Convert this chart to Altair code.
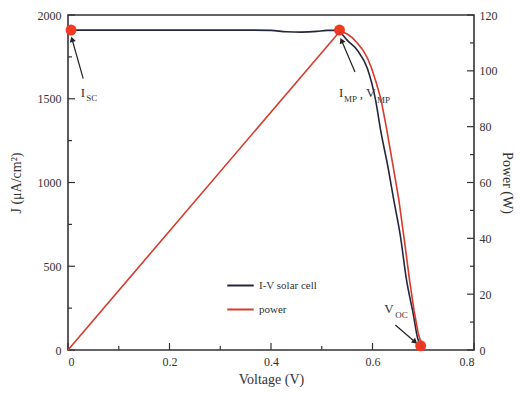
import math
import altair as alt
import pandas as pd

# ---------------- data ----------------
iv_voltage = [0.0, 0.05, 0.10, 0.15, 0.20, 0.25, 0.30, 0.35, 0.40, 0.43, 0.46, 0.49, 0.51, 0.53, 0.54,
              0.55, 0.57, 0.59, 0.606, 0.617, 0.63, 0.642, 0.655, 0.667, 0.68, 0.689, 0.695]
iv_current = [1910, 1910, 1910, 1910, 1910, 1910, 1910, 1910, 1908, 1900, 1898, 1902, 1908, 1908, 1885,
              1850, 1790, 1680, 1493, 1296, 1100, 895, 680, 418, 220, 70, 25]

power_voltage = [0.0, 0.535, 0.54, 0.545, 0.55, 0.56, 0.57, 0.581, 0.59, 0.598, 0.607, 0.617, 0.628,
                 0.64, 0.652, 0.663, 0.673, 0.682, 0.69, 0.70]
power_watts = [0.0, 114.0, 113.9, 113.6, 113.2, 111.9, 110.0, 107.5, 104.6, 101.0, 96.0, 89.6, 79.0,
               66.5, 53.7, 39.0, 25.0, 14.0, 6.0, 0.0]

marker_voltage = [0.006, 0.535, 0.695]
marker_current = [1910, 1910, 25]

series_names = ["I-V solar cell", "power"]
series_colors = ["#24263b", "#d63a2c"]

x_major = [0.0, 0.2, 0.4, 0.6, 0.8]
x_minor = [0.1, 0.3, 0.5, 0.7]
j_major = [0, 500, 1000, 1500, 2000]
j_minor = [250, 750, 1250, 1750]
p_major = [0, 20, 40, 60, 80, 100, 120]
p_minor = [10, 30, 50, 70, 90, 110]

# annotation text pieces (voltage, current, text, font size)
label_v = [0.025, 0.036, 0.534, 0.544, 0.575, 0.587, 0.609, 0.623, 0.645]
label_j = [1510, 1485, 1510, 1481, 1504, 1510, 1475, 221, 194]
label_t = ["I", "SC", "I", "MP", ",", "V", "MP", "V", "OC"]
label_s = [13, 9, 13, 9, 13, 13, 9, 13, 9]

# arrows: start (v, j) -> end (v, j)
arrow_v1 = [0.030, 0.5655, 0.645]
arrow_j1 = [1620, 1660, 149]
arrow_v2 = [0.008, 0.539, 0.684]
arrow_j2 = [1855, 1848, 48]

# ---------------- layout ----------------
W, H = 406, 335
FONT = "Liberation Serif"
x_dom = [0, 0.8]
j_dom = [0, 2000]
p_dom = [0, 120]

xs = alt.Scale(domain=x_dom, nice=False, zero=False)
js = alt.Scale(domain=j_dom, nice=False)
ps = alt.Scale(domain=p_dom, nice=False)
cs = alt.Scale(domain=series_names, range=series_colors)

iv_df = pd.DataFrame({"V": iv_voltage, "J": iv_current, "series": series_names[0]})
pw_df = pd.DataFrame({"V": power_voltage, "P": power_watts, "series": series_names[1]})
mk_df = pd.DataFrame({"V": marker_voltage, "J": marker_current})
lb_df = pd.DataFrame({"V": label_v, "J": label_j, "t": label_t, "s": label_s})

# arrow head angles in pixel space
px_per_v = W / (x_dom[1] - x_dom[0])
px_per_j = H / (j_dom[1] - j_dom[0])
angles = []
for v1, j1, v2, j2 in zip(arrow_v1, arrow_j1, arrow_v2, arrow_j2):
    dx = (v2 - v1) * px_per_v
    dy = -(j2 - j1) * px_per_j
    angles.append(math.degrees(math.atan2(dx, -dy)) % 360)
ar_df = pd.DataFrame({"V": arrow_v1, "J": arrow_j1, "V2": arrow_v2, "J2": arrow_j2, "ang": angles})

x_enc = alt.X("V:Q", scale=xs,
              axis=alt.Axis(values=x_major, title="Voltage (V)", ticks=False, grid=False,
                            labelPadding=6, titlePadding=5, domain=False,
                            labelExpr="datum.value == 0 ? '0' : format(datum.value, '.1f')"))

iv_line = alt.Chart(iv_df).mark_line(strokeWidth=1.6, interpolate="monotone").encode(
    x=x_enc,
    y=alt.Y("J:Q", scale=js,
            axis=alt.Axis(values=j_major, title="J (μA/cm²)", ticks=False, grid=False, format="d",
                          labelPadding=7, titlePadding=14, domain=False, orient="left")),
    color=alt.Color("series:N", scale=cs,
                    legend=alt.Legend(title=None, orient="none", legendX=158, legendY=256,
                                      symbolType="stroke", symbolSize=700, symbolStrokeWidth=2,
                                      labelFont=FONT, labelFontSize=11, rowPadding=4,
                                      labelColor="#333")),
)

markers = alt.Chart(mk_df).mark_point(filled=True, size=120, color="#f03a22", opacity=1).encode(
    x=alt.X("V:Q", scale=xs), y=alt.Y("J:Q", scale=js))

labels = alt.Chart(lb_df).mark_text(font=FONT, align="left", baseline="alphabetic", color="#333").encode(
    x=alt.X("V:Q", scale=xs), y=alt.Y("J:Q", scale=js),
    text="t:N", size=alt.Size("s:Q", scale=None, legend=None))

arrow_lines = alt.Chart(ar_df).mark_rule(strokeWidth=1.2, color="#222").encode(
    x=alt.X("V:Q", scale=xs), y=alt.Y("J:Q", scale=js),
    x2="V2:Q", y2="J2:Q")
arrow_heads = alt.Chart(ar_df).mark_point(shape="triangle-up", filled=True, size=40, color="#222",
                                          opacity=1).encode(
    x=alt.X("V2:Q", scale=xs), y=alt.Y("J2:Q", scale=js),
    angle=alt.Angle("ang:Q", scale=None))

def xticks(vals, length):
    return alt.Chart(pd.DataFrame({"V": vals})).mark_rule(color="#333", strokeWidth=1.2).encode(
        x=alt.X("V:Q", scale=xs), y=alt.value(H), y2=alt.value(H - length))

def jticks(vals, length):
    return alt.Chart(pd.DataFrame({"J": vals})).mark_rule(color="#333", strokeWidth=1.2).encode(
        y=alt.Y("J:Q", scale=js), x=alt.value(0), x2=alt.value(length))

def pticks(vals, length):
    return alt.Chart(pd.DataFrame({"P": vals})).mark_rule(color="#333", strokeWidth=1.2).encode(
        y=alt.Y("P:Q", scale=ps), x=alt.value(W), x2=alt.value(W - length))

left = alt.layer(iv_line, xticks(x_major, 7), xticks(x_minor, 4), jticks(j_major, 7), jticks(j_minor, 4),
                 arrow_lines, arrow_heads, labels, markers)

pw_line = alt.Chart(pw_df).mark_line(strokeWidth=1.6).encode(
    x=alt.X("V:Q", scale=xs),
    y=alt.Y("P:Q", scale=ps,
            axis=alt.Axis(values=p_major, title="Power (W)", ticks=False, grid=False, format="d",
                          labelPadding=5, titlePadding=2, domain=False, orient="right")),
    color=alt.Color("series:N", scale=cs),
)

right = alt.layer(pw_line, pticks(p_major, 7), pticks(p_minor, 4))

chart = alt.layer(left, right).resolve_scale(y="independent").properties(
    width=W, height=H,
    autosize=alt.AutoSizeParams(type="none"),
    padding={"left": 60, "top": 7, "right": 40, "bottom": 38},
).configure_view(stroke="#333", strokeWidth=1.6).configure_axis(
    labelFont=FONT, titleFont=FONT, labelFontSize=12, titleFontSize=14,
    labelColor="#333", titleColor="#333", titleFontWeight="normal",
)

chart.save("out.html", embed_options={"renderer": "svg", "actions": False})
